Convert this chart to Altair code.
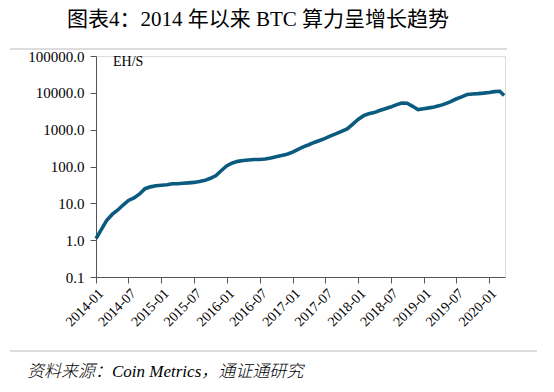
import altair as alt
import pandas as pd

months = pd.date_range("2014-01-01", "2020-03-01", freq="MS").strftime("%Y-%m-%d").tolist() + ["2020-03-25"]
hashrate = [
    1.1, 2.0, 3.4, 5.0, 6.5, 9.0, 12, 14, 18, 25, 28, 30,
    31, 32, 34, 34, 35, 36, 37, 39, 42, 48, 57, 78,
    105, 125, 138, 145, 150, 155, 155, 160, 170, 185, 200, 215,
    245, 290, 340, 390, 450, 510, 580, 680, 780, 900, 1050, 1400,
    1900, 2400, 2700, 2900, 3300, 3700, 4100, 4700, 5300, 5200, 4300, 3500,
    3700, 3900, 4100, 4500, 5000, 5800, 6800, 7800, 9000, 9300, 9500, 9800,
    10200, 10800, 11000, 8500,
]
months = months[:len(hashrate)]

y_ticks = [0.1, 1, 10, 100, 1000, 10000, 100000]
x_ticks = [(y, m) for y in range(2014, 2021) for m in (1, 7) if (y, m) <= (2020, 1)]

title_text = "图表4：2014 年以来 BTC 算力呈增长趋势"
source_text = "资料来源：Coin Metrics，通证通研究"
unit_text = "EH/S"

df = pd.DataFrame({"date": months, "value": hashrate})

SERIF = "Liberation Serif, Times New Roman, Noto Sans CJK SC"
W, H = 409, 221

line = alt.Chart(df).mark_line(color="#0b5a80", strokeWidth=3.6).encode(
    x=alt.X("date:T",
            scale=alt.Scale(type="utc",
                            domain=[alt.DateTime(year=2014, month=1, date=1, utc=True),
                                    alt.DateTime(year=2020, month=3, date=30, utc=True)]),
            axis=alt.Axis(values=[alt.DateTime(year=y, month=m, date=1, utc=True) for y, m in x_ticks],
                          format="%Y-%m", labelAngle=-45, title=None, grid=False, labelOverlap=False,
                          tickSize=6, labelPadding=3, domainColor="#555", tickColor="#555",
                          labelFont=SERIF, labelFontSize=14, labelColor="#000")),
    y=alt.Y("value:Q",
            scale=alt.Scale(type="log", domain=[0.1, 100000]),
            axis=alt.Axis(values=y_ticks, format=".1f", title=None, grid=False,
                          tickSize=6, labelPadding=6, domainColor="#555", tickColor="#555",
                          labelFont=SERIF, labelFontSize=15, labelColor="#000")),
)

unit = alt.Chart(pd.DataFrame({"t": [unit_text]})).mark_text(
    font=SERIF, fontSize=14, align="left", baseline="middle", color="#000"
).encode(text="t:N", x=alt.value(17), y=alt.value(6))

title = alt.Chart(pd.DataFrame({"t": [title_text]})).mark_text(
    font=SERIF, fontSize=21, fontWeight=400, align="center", baseline="middle", color="#000"
).encode(text="t:N", x=alt.value(162), y=alt.value(-36))

source = alt.Chart(pd.DataFrame({"t": [source_text]})).mark_text(
    font=SERIF, fontSize=17, fontStyle="italic", fontWeight=300, align="left", baseline="middle", color="#000"
).encode(text="t:N", x=alt.value(-69), y=alt.value(316))

rule_top = alt.Chart(pd.DataFrame({"a": [0]})).mark_rule(color="#bbbbbb", strokeWidth=1.2).encode(
    x=alt.value(-86), x2=alt.value(411), y=alt.value(-7))
rule_bottom = alt.Chart(pd.DataFrame({"a": [0]})).mark_rule(color="#bbbbbb", strokeWidth=1.2).encode(
    x=alt.value(-86), x2=alt.value(441), y=alt.value(295))

chart = alt.layer(line, unit, title, source, rule_top, rule_bottom).properties(
    width=W, height=H,
    autosize=alt.AutoSizeParams(type="none"),
    padding={"left": 88, "top": 48, "right": 41, "bottom": 107},
).configure_view(stroke=None).configure(background="white")

chart.save("out.html", embed_options={"renderer": "svg", "actions": False})
